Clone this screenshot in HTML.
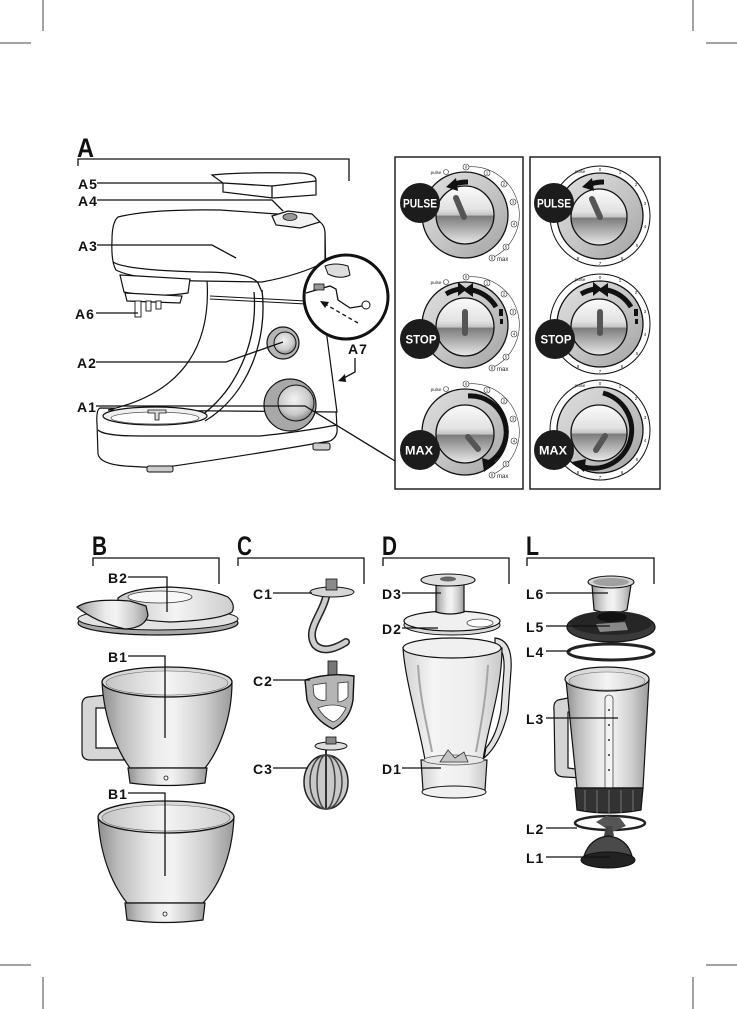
<!DOCTYPE html>
<html><head><meta charset="utf-8">
<style>
html,body{margin:0;padding:0;background:#fff;}
svg{display:block;}
.lb{font-family:"Liberation Sans Narrow","Liberation Sans",sans-serif;font-weight:bold;font-size:14px;fill:#111;letter-spacing:1px;}
.hd{font-family:"Liberation Sans Narrow","Liberation Sans",sans-serif;font-weight:bold;font-size:27px;fill:#111;}
.bt{font-family:"Liberation Sans Narrow","Liberation Sans",sans-serif;font-weight:bold;font-size:12px;fill:#fff;}
.tn{font-family:"Liberation Sans",sans-serif;font-size:4.5px;fill:#222;}
.ln{stroke:#111;stroke-width:1.3;fill:none;}
.o{stroke:#111;stroke-width:1.2;}
</style></head>
<body>
<svg width="737" height="1009" viewBox="0 0 737 1009" xmlns="http://www.w3.org/2000/svg">
<defs>
<linearGradient id="met" x1="0" y1="0" x2="1" y2="0">
<stop offset="0" stop-color="#8e8e8e"/><stop offset="0.15" stop-color="#bcbcbc"/><stop offset="0.4" stop-color="#ebebeb"/><stop offset="0.55" stop-color="#f3f3f3"/><stop offset="0.8" stop-color="#cdcdcd"/><stop offset="1" stop-color="#9a9a9a"/>
</linearGradient>
<linearGradient id="inr" x1="0" y1="0" x2="1" y2="0">
<stop offset="0" stop-color="#c4c4c4"/><stop offset="0.5" stop-color="#f4f4f4"/><stop offset="1" stop-color="#cdcdcd"/>
</linearGradient>
<linearGradient id="ring" x1="0" y1="0" x2="1" y2="1">
<stop offset="0" stop-color="#e0e0e0"/><stop offset="0.5" stop-color="#c6c6c6"/><stop offset="1" stop-color="#a2a2a2"/>
</linearGradient>
<linearGradient id="face" x1="0" y1="0" x2="0" y2="1">
<stop offset="0" stop-color="#fbfbfb"/><stop offset="0.4" stop-color="#e2e2e2"/><stop offset="0.5" stop-color="#c4c4c4"/><stop offset="0.52" stop-color="#7c7c7c"/><stop offset="0.72" stop-color="#a9a9a9"/><stop offset="1" stop-color="#e9e9e9"/>
</linearGradient>
<linearGradient id="glass" x1="0" y1="0" x2="1" y2="0">
<stop offset="0" stop-color="#d2d2d2"/><stop offset="0.3" stop-color="#f4f4f4"/><stop offset="0.7" stop-color="#eeeeee"/><stop offset="1" stop-color="#c8c8c8"/>
</linearGradient>
<radialGradient id="knob" cx="0.45" cy="0.4" r="0.6">
<stop offset="0" stop-color="#f4f4f4"/><stop offset="0.7" stop-color="#c9c9c9"/><stop offset="1" stop-color="#8d8d8d"/>
</radialGradient>
</defs>

<!-- crop marks -->
<g stroke="#444" stroke-width="1">
<line x1="43" y1="0" x2="43" y2="31"/><line x1="0" y1="43" x2="31" y2="43"/>
<line x1="693" y1="0" x2="693" y2="31"/><line x1="706" y1="43" x2="737" y2="43"/>
<line x1="43" y1="977" x2="43" y2="1009"/><line x1="0" y1="965" x2="31" y2="965"/>
<line x1="693" y1="977" x2="693" y2="1009"/><line x1="706" y1="965" x2="737" y2="965"/>
</g>

<!-- Section A header -->
<text class="hd" x="77" y="157" textLength="17" lengthAdjust="spacingAndGlyphs">A</text>
<path class="ln" d="M78,166 V159 H349 V181"/>

<!-- ===== MIXER ===== -->
<path class="o" fill="#fff" d="M100,408 Q96,410 97,424 L98,454 Q100,464 125,466 L160,468 Q250,455 330,441 Q338,437 337,428 L336,410 Z"/>
<path class="ln" d="M98,430 Q104,436 140,436 L260,436 Q300,432 337,425"/>
<rect x="147" y="466" width="26" height="6" rx="2" fill="#ccc" stroke="#111" stroke-width="1"/>
<rect x="313" y="443" width="17" height="7" rx="2" fill="#ccc" stroke="#111" stroke-width="1"/>
<path class="o" fill="#fff" d="M207,280 C211,340 188,392 108,410 L337,412 L327,337 L325,232 L262,226 Z"/>
<path class="ln" d="M262,290 C268,340 248,395 205,421"/>
<path class="ln" d="M254,292 C258,340 238,392 195,420"/>
<ellipse cx="155" cy="416" rx="52" ry="9" fill="#f0f0f0" stroke="#111" stroke-width="1.2"/>
<ellipse cx="155" cy="418" rx="44" ry="6" fill="#fff" stroke="#555" stroke-width="0.8"/>
<path d="M148,410 L166,410 L166,413 L159,413 L159,420 L155,420 L155,413 L148,413 Z" fill="#ddd" stroke="#111" stroke-width="0.8"/>
<!-- head -->
<path class="o" fill="#fff" d="M118,217 Q150,209 220,210 L277,214 L318,221 Q325,224 325,234 L325,262 Q300,275 262,282 L200,281 Q135,280 116,270 Q111,262 112,240 Q112,222 118,217 Z"/>
<path class="ln" d="M113,262 Q125,270 200,272 Q250,272 258,283 L262,292"/>
<path class="o" fill="#f2f2f2" d="M272,216 L288,211 L312,214 L320,222 L300,228 L276,225 Z"/>
<ellipse cx="290" cy="217" rx="7" ry="3.5" fill="#999" stroke="#111" stroke-width="0.8"/>
<!-- hub -->
<path class="o" fill="#fff" d="M120,275 L190,279 L188,293 Q155,298 124,292 Z"/>
<path class="o" fill="#fff" d="M125,293 L182,296 L180,303 L127,301 Z"/>
<rect x="135" y="301" width="6" height="16" fill="#fff" stroke="#111" stroke-width="0.9"/>
<rect x="146" y="301" width="5" height="10" fill="#fff" stroke="#111" stroke-width="0.9"/>
<rect x="156" y="301" width="5" height="8" fill="#fff" stroke="#111" stroke-width="0.9"/>
<path d="M210,296 L306,301 M210,299 L306,304" stroke="#111" stroke-width="1"/>
<!-- knobs -->
<circle cx="283" cy="343" r="16" fill="#b5b5b5" stroke="#111" stroke-width="1.2"/>
<circle cx="285" cy="343" r="11" fill="url(#knob)" stroke="#111" stroke-width="1"/>
<circle cx="290" cy="405" r="26" fill="#a8a8a8" stroke="#111" stroke-width="1.2"/>
<circle cx="296" cy="403" r="18" fill="url(#knob)" stroke="#111" stroke-width="1"/>
<!-- magnifier -->
<circle cx="346" cy="297" r="42" fill="#fff" stroke="#111" stroke-width="3"/>
<path d="M325,266 Q335,262 348,266 L350,275 Q340,280 328,274 Z" fill="#ddd" stroke="#111" stroke-width="1"/>
<path d="M306,293 L330,286 L336,289 L338,300 L350,308 L362,306" fill="none" stroke="#111" stroke-width="1.3"/>
<rect x="314" y="284" width="10" height="6" fill="#999" stroke="#111" stroke-width="0.8"/>
<circle cx="366" cy="305" r="4" fill="#fff" stroke="#111" stroke-width="1"/>
<path d="M358,323 L325,304" stroke="#111" stroke-width="1.3" stroke-dasharray="4,3"/>
<path d="M320,301 L329,302 L325,308 Z" fill="#111"/>

<!-- A labels -->
<text class="lb" x="78" y="189">A5</text>
<text class="lb" x="78" y="206">A4</text>
<text class="lb" x="78" y="251">A3</text>
<text class="lb" x="75" y="319">A6</text>
<text class="lb" x="77" y="368">A2</text>
<text class="lb" x="77" y="412">A1</text>
<text class="lb" x="348" y="354">A7</text>
<path class="ln" d="M97,183 H223"/>
<path class="ln" d="M97,200 H272 L283,211"/>
<path class="ln" d="M97,245 H212 L236,258"/>
<path class="ln" d="M96,313 H138"/>
<path class="ln" d="M96,362 H226 L283,342"/>
<path class="ln" d="M96,406 H305 L395,461"/>
<path class="ln" d="M355,358 V372 L342,379"/>
<path d="M338,381 L345,374 L346,382 Z" fill="#111"/>

<!-- A5 plate -->
<path class="o" fill="#fff" d="M212,175 Q240,172 300,173 Q316,174 316,180 L316,195 L273,198 L223,192 L223,183 Z"/>
<path class="ln" d="M223,183 L272,186 L316,181 M272,186 V198"/>

<!-- ===== Dial panels ===== -->
<rect x="395" y="157" width="128" height="332" fill="none" stroke="#222" stroke-width="1.5"/>
<rect x="530" y="157" width="130" height="332" fill="none" stroke="#222" stroke-width="1.5"/>

<g>
<circle cx="465" cy="215" r="43" fill="url(#ring)" stroke="#111" stroke-width="1.3"/>
<circle cx="465" cy="215" r="29" fill="url(#face)" stroke="#111" stroke-width="1.3"/>
<circle cx="465" cy="325" r="43" fill="url(#ring)" stroke="#111" stroke-width="1.3"/>
<circle cx="465" cy="327" r="29" fill="url(#face)" stroke="#111" stroke-width="1.3"/>
<circle cx="465" cy="432" r="43" fill="url(#ring)" stroke="#111" stroke-width="1.3"/>
<circle cx="465" cy="434" r="29" fill="url(#face)" stroke="#111" stroke-width="1.3"/>
</g>
<g fill="none" stroke="#333" stroke-width="0.6">
<path d="M466,167 A48,48 0 0 1 492,258"/>
<path d="M466,277 A48,48 0 0 1 492,368"/>
<path d="M466,384 A48,48 0 0 1 492,475"/>
</g>
<g fill="#fff" stroke="#333" stroke-width="0.6">
<circle cx="466" cy="167" r="3"/><circle cx="487" cy="173" r="3"/><circle cx="504" cy="184" r="3"/><circle cx="513" cy="202" r="3"/><circle cx="514" cy="224" r="3"/><circle cx="506" cy="247" r="3"/><circle cx="492" cy="258" r="3"/><circle cx="446" cy="172" r="2.5"/>
<circle cx="466" cy="277" r="3"/><circle cx="487" cy="283" r="3"/><circle cx="504" cy="294" r="3"/><circle cx="513" cy="312" r="3"/><circle cx="514" cy="334" r="3"/><circle cx="506" cy="357" r="3"/><circle cx="492" cy="368" r="3"/><circle cx="446" cy="282" r="2.5"/>
<circle cx="466" cy="384" r="3"/><circle cx="487" cy="390" r="3"/><circle cx="504" cy="401" r="3"/><circle cx="513" cy="419" r="3"/><circle cx="514" cy="441" r="3"/><circle cx="506" cy="464" r="3"/><circle cx="492" cy="475" r="3"/><circle cx="446" cy="389" r="2.5"/>
</g>
<g class="tn" text-anchor="middle">
<text x="466" y="168.5">0</text><text x="487" y="174.5">1</text><text x="504" y="185.5">2</text><text x="513" y="203.5">3</text><text x="514" y="225.5">4</text><text x="506" y="248.5">5</text><text x="492" y="259.5">6</text>
<text x="466" y="278.5">0</text><text x="487" y="284.5">1</text><text x="504" y="295.5">2</text><text x="513" y="313.5">3</text><text x="514" y="335.5">4</text><text x="506" y="358.5">5</text><text x="492" y="369.5">6</text>
<text x="466" y="385.5">0</text><text x="487" y="391.5">1</text><text x="504" y="402.5">2</text><text x="513" y="420.5">3</text><text x="514" y="442.5">4</text><text x="506" y="465.5">5</text><text x="492" y="476.5">6</text>
<text x="436" y="174">pulse</text><text x="436" y="284">pulse</text><text x="436" y="391">pulse</text>
</g>
<g class="tn" style="font-size:6px">
<text x="497" y="261">max</text><text x="497" y="371">max</text><text x="497" y="478">max</text>
</g>

<g>
<circle cx="600" cy="216" r="50" fill="#fff" stroke="#111" stroke-width="1"/>
<circle cx="600" cy="216" r="43" fill="url(#ring)" stroke="#111" stroke-width="1.3"/>
<circle cx="599" cy="217" r="28" fill="url(#face)" stroke="#111" stroke-width="1.3"/>
<circle cx="600" cy="324" r="50" fill="#fff" stroke="#111" stroke-width="1"/>
<circle cx="600" cy="324" r="43" fill="url(#ring)" stroke="#111" stroke-width="1.3"/>
<circle cx="599" cy="327" r="28" fill="url(#face)" stroke="#111" stroke-width="1.3"/>
<circle cx="600" cy="430" r="50" fill="#fff" stroke="#111" stroke-width="1"/>
<circle cx="600" cy="430" r="43" fill="url(#ring)" stroke="#111" stroke-width="1.3"/>
<circle cx="599" cy="433" r="28" fill="url(#face)" stroke="#111" stroke-width="1.3"/>
</g>
<g class="tn" text-anchor="middle">
<text x="600" y="171">0</text><text x="620" y="174">1</text><text x="636" y="186">2</text><text x="645" y="205">3</text><text x="645" y="228">4</text><text x="637" y="247">5</text><text x="622" y="260">6</text><text x="600" y="265">7</text><text x="578" y="260">8</text>
<text x="600" y="279">0</text><text x="620" y="282">1</text><text x="636" y="294">2</text><text x="645" y="313">3</text><text x="645" y="336">4</text><text x="637" y="355">5</text><text x="622" y="368">6</text><text x="600" y="373">7</text><text x="578" y="368">8</text>
<text x="600" y="385">0</text><text x="620" y="388">1</text><text x="636" y="400">2</text><text x="645" y="419">3</text><text x="645" y="442">4</text><text x="637" y="461">5</text><text x="622" y="474">6</text><text x="600" y="479">7</text><text x="578" y="474">8</text>
<text x="580" y="173">pulse</text><text x="580" y="281">pulse</text><text x="580" y="387">pulse</text>
</g>

<g stroke="#555" stroke-width="6" stroke-linecap="round">
<line x1="456" y1="198" x2="464" y2="217"/>
<line x1="465" y1="312" x2="465" y2="333"/>
<line x1="468" y1="437" x2="478" y2="449"/>
<line x1="592" y1="199" x2="600" y2="217"/>
<line x1="600" y1="312" x2="600" y2="333"/>
<line x1="605" y1="436" x2="596" y2="450"/>
</g>

<g fill="none" stroke="#111" stroke-width="5">
<path d="M468,182 Q460,182 455,184"/>
<path d="M446,294 Q453,290 460,289"/>
<path d="M496,307 A36,36 0 0 0 472,290"/>
<path d="M468,396 A36,36 0 0 1 490,462"/>
<path d="M604,182 Q596,182 591,184"/>
<path d="M581,294 Q588,290 595,289"/>
<path d="M631,307 A36,36 0 0 0 607,290"/>
<path d="M603,393 A38,38 0 0 1 584,467"/>
</g>
<g fill="#111">
<polygon points="446,187 456,178 458,191"/>
<polygon points="467,289 458,282 458,296"/>
<polygon points="463,290 473,283 473,297"/>
<polygon points="484,472 482,458 496,462"/>
<rect x="499" y="309" width="4" height="7"/><rect x="500" y="319" width="3" height="5"/>
<polygon points="582,187 592,178 594,191"/>
<polygon points="602,289 593,282 593,296"/>
<polygon points="598,290 608,283 608,297"/>
<rect x="634" y="309" width="4" height="7"/><rect x="635" y="319" width="3" height="5"/>
<polygon points="572,462 586,459 584,472"/>
</g>

<g fill="#1c1c1c">
<circle cx="420" cy="203" r="20"/><circle cx="420" cy="339" r="20"/><circle cx="420" cy="450" r="20"/>
<circle cx="554" cy="203" r="20"/><circle cx="555" cy="339" r="20"/><circle cx="554" cy="450" r="20"/>
</g>
<g class="bt" text-anchor="middle">
<text x="420" y="207.5" textLength="34" lengthAdjust="spacingAndGlyphs">PULSE</text>
<text x="421" y="343.5" textLength="31" lengthAdjust="spacingAndGlyphs">STOP</text>
<text x="419" y="454.5" textLength="28" lengthAdjust="spacingAndGlyphs">MAX</text>
<text x="554" y="207.5" textLength="34" lengthAdjust="spacingAndGlyphs">PULSE</text>
<text x="556" y="343.5" textLength="31" lengthAdjust="spacingAndGlyphs">STOP</text>
<text x="553" y="454.5" textLength="28" lengthAdjust="spacingAndGlyphs">MAX</text>
</g>

<!-- ===== Bottom headers ===== -->
<text class="hd" x="92" y="555" textLength="15" lengthAdjust="spacingAndGlyphs">B</text>
<text class="hd" x="237" y="555" textLength="15" lengthAdjust="spacingAndGlyphs">C</text>
<text class="hd" x="382" y="555" textLength="15" lengthAdjust="spacingAndGlyphs">D</text>
<text class="hd" x="526" y="555" textLength="13" lengthAdjust="spacingAndGlyphs">L</text>
<path class="ln" d="M93,566 V558 H219 V584"/>
<path class="ln" d="M238,566 V558 H364 V584"/>
<path class="ln" d="M383,566 V558 H509 V584"/>
<path class="ln" d="M527,566 V558 H654 V584"/>

<!-- B2 lid -->
<ellipse cx="158" cy="623" rx="80" ry="12" fill="#a8a8a8" stroke="#111" stroke-width="1.2"/>
<ellipse cx="158" cy="619" rx="80" ry="11" fill="#e2e2e2" stroke="#111" stroke-width="1"/>
<path class="o" fill="url(#inr)" d="M118,598 Q130,588 170,587 Q210,589 228,597 Q236,605 232,612 Q220,620 170,622 Q130,620 118,612 Z"/>
<ellipse cx="160" cy="597" rx="32" ry="6" fill="#f7f7f7" stroke="#333" stroke-width="0.8"/>
<path class="o" fill="url(#met)" d="M77,607 Q90,598 130,601 L146,606 L148,615 Q145,628 125,629 Q95,622 77,607 Z"/>

<!-- B1 bowl with handle -->
<path class="o" fill="#d6d6d6" d="M106,695 L88,697 Q82,698 82,705 L82,752 Q82,760 90,760 L124,760 L122,748 L96,748 L96,708 L106,708 Z"/>
<path class="o" fill="url(#met)" d="M102,682 C104,720 118,752 130,768 L205,768 C218,752 232,720 232,682 Z"/>
<path class="o" fill="url(#met)" d="M128,768 L207,768 L205,783 Q167,788 130,783 Z"/>
<circle cx="166" cy="778" r="2" fill="#fff" stroke="#111" stroke-width="0.8"/>
<ellipse cx="167" cy="682" rx="65" ry="15" fill="#d8d8d8" stroke="#111" stroke-width="1.3"/>
<ellipse cx="167" cy="683" rx="61" ry="12" fill="url(#inr)" stroke="#666" stroke-width="0.6"/>

<!-- B1 bowl 2 -->
<path class="o" fill="url(#met)" d="M98,817 C100,860 115,888 127,903 L203,903 C217,888 232,860 234,817 Z"/>
<path class="o" fill="url(#met)" d="M125,903 L205,903 L203,920 Q165,925 127,920 Z"/>
<circle cx="165" cy="914" r="2" fill="#fff" stroke="#111" stroke-width="0.8"/>
<ellipse cx="166" cy="817" rx="68" ry="16" fill="#d8d8d8" stroke="#111" stroke-width="1.3"/>
<ellipse cx="166" cy="818" rx="64" ry="13" fill="url(#inr)" stroke="#666" stroke-width="0.6"/>

<text class="lb" x="108" y="583">B2</text>
<text class="lb" x="108" y="662">B1</text>
<text class="lb" x="108" y="799">B1</text>
<path class="ln" d="M128,577 H167 V612"/>
<path class="ln" d="M128,656 H165 V738"/>
<path class="ln" d="M128,793 H165 V876"/>

<!-- C1 hook -->
<path d="M326,597 C322,615 305,630 315,645 Q325,655 346,642" fill="none" stroke="#222" stroke-width="8" stroke-linecap="round"/>
<path d="M326,597 C322,615 305,630 315,645 Q325,655 346,642" fill="none" stroke="#cdcdcd" stroke-width="5" stroke-linecap="round"/>
<ellipse cx="332" cy="592" rx="22" ry="5" fill="#d6d6d6" stroke="#111" stroke-width="1"/>
<rect x="326" y="579" width="11" height="11" fill="#8a8a8a" stroke="#111" stroke-width="0.8"/>
<!-- C2 beater -->
<rect x="328" y="661" width="9" height="16" fill="#777" stroke="#111" stroke-width="0.8"/>
<path d="M305,680 Q330,672 354,676 L353,700 Q350,720 333,729 Q314,720 307,700 Z" fill="#b5b5b5" stroke="#111" stroke-width="1.4"/>
<path d="M313,685 L326,683 L326,700 Q318,702 314,695 Z M338,683 L348,682 L348,697 Q343,702 338,702 Z M318,708 Q333,702 346,708 Q340,720 333,722 Q324,718 318,708 Z" fill="#fff" stroke="#333" stroke-width="0.8"/>
<!-- C3 whisk -->
<ellipse cx="326" cy="782" rx="22" ry="27" fill="#c8c8c8" stroke="#222" stroke-width="1.5"/>
<ellipse cx="326" cy="782" rx="16" ry="27" fill="none" stroke="#444" stroke-width="1.5"/>
<ellipse cx="326" cy="782" rx="9" ry="27" fill="none" stroke="#444" stroke-width="1.5"/>
<line x1="326" y1="748" x2="326" y2="808" stroke="#333" stroke-width="2"/>
<ellipse cx="331" cy="746" rx="16" ry="4" fill="#ddd" stroke="#111" stroke-width="1"/>
<rect x="326" y="737" width="10" height="7" fill="#888" stroke="#111" stroke-width="0.8"/>
<text class="lb" x="253" y="599">C1</text>
<text class="lb" x="253" y="686">C2</text>
<text class="lb" x="253" y="774">C3</text>
<path class="ln" d="M273,593 H312"/>
<path class="ln" d="M273,680 H310"/>
<path class="ln" d="M273,768 H308"/>

<!-- D jug -->
<path class="o" fill="#e2e2e2" d="M495,638 Q513,640 511,670 L508,712 Q500,745 484,758 L486,748 Q497,735 501,710 L504,670 Q505,648 495,645 Z"/>
<path class="o" fill="url(#glass)" d="M403,648 C405,680 420,730 425,760 L483,760 C487,730 502,690 502,648 Z"/>
<path d="M418,665 C420,700 428,730 432,752 M488,665 C486,700 480,730 476,752" fill="none" stroke="#a5a5a5" stroke-width="2"/>
<path class="o" fill="url(#glass)" d="M421,760 L487,760 L485,790 Q454,800 423,790 Z"/>
<ellipse cx="454" cy="792" rx="32" ry="6" fill="#f0f0f0" stroke="#111" stroke-width="1"/>
<ellipse cx="454" cy="760" rx="30" ry="5" fill="#e8e8e8" stroke="#555" stroke-width="0.8"/>
<path d="M440,762 L448,750 L455,758 L464,752 L468,762 Z" fill="#c4c4c4" stroke="#333" stroke-width="0.8"/>
<ellipse cx="452" cy="648" rx="49" ry="10" fill="#f0f0f0" stroke="#111" stroke-width="1.2"/>
<ellipse cx="452" cy="625" rx="48" ry="10" fill="#dadada" stroke="#111" stroke-width="1"/>
<ellipse cx="452" cy="621" rx="48" ry="10" fill="#f0f0f0" stroke="#111" stroke-width="1.2"/>
<ellipse cx="480" cy="623" rx="13" ry="4" fill="#fff" stroke="#444" stroke-width="0.8"/>
<path class="o" fill="url(#met)" d="M436,584 L436,612 Q450,616 464,612 L464,584 Z"/>
<ellipse cx="448" cy="580" rx="27" ry="6" fill="#dedede" stroke="#111" stroke-width="1.1"/>
<ellipse cx="448" cy="579" rx="8" ry="2.5" fill="#666"/>
<text class="lb" x="382" y="599">D3</text>
<text class="lb" x="382" y="634">D2</text>
<text class="lb" x="382" y="774">D1</text>
<path class="ln" d="M402,593 H441"/>
<path class="ln" d="M402,628 H438"/>
<path class="ln" d="M402,768 H441"/>

<!-- L blender -->
<path class="o" fill="url(#met)" d="M592,585 L594,610 Q611,616 627,610 L631,585 Z"/>
<ellipse cx="611" cy="582" rx="23" ry="6" fill="#d4d4d4" stroke="#111" stroke-width="1.1"/>
<ellipse cx="611" cy="582" rx="18" ry="4" fill="#a0a0a0"/>
<ellipse cx="611" cy="627" rx="44" ry="15" fill="#3a3a3a" stroke="#111" stroke-width="1.2"/>
<ellipse cx="611" cy="623" rx="41" ry="12" fill="#262626"/>
<ellipse cx="612" cy="617" rx="15" ry="5" fill="#111"/>
<path d="M596,624 L625,622 L628,630 L600,632 Z" fill="#888"/>
<ellipse cx="611" cy="652" rx="43" ry="8" fill="none" stroke="#222" stroke-width="3"/>
<path class="o" fill="#d4d4d4" d="M578,696 L558,700 Q553,702 554,710 L555,770 Q556,777 565,777 L582,778 L582,770 L568,768 L568,712 L580,708 Z"/>
<path class="o" fill="url(#met)" d="M566,680 L577,788 L643,788 L649,680 Z"/>
<ellipse cx="607" cy="679" rx="42" ry="12" fill="#dcdcdc" stroke="#111" stroke-width="1.2"/>
<ellipse cx="607" cy="681" rx="38" ry="9" fill="url(#inr)" stroke="#666" stroke-width="0.6"/>
<rect x="605" y="695" width="8" height="95" rx="4" fill="#f4f4f4" stroke="#444" stroke-width="0.8"/>
<g fill="#333"><circle cx="609" cy="710" r="1"/><circle cx="609" cy="725" r="1"/><circle cx="609" cy="740" r="1"/><circle cx="609" cy="755" r="1"/><circle cx="609" cy="770" r="1"/></g>
<path class="o" fill="#333" d="M575,788 L643,788 L641,810 Q608,816 577,810 Z"/>
<g stroke="#777" stroke-width="1"><line x1="585" y1="790" x2="585" y2="811"/><line x1="597" y1="790" x2="597" y2="813"/><line x1="609" y1="790" x2="609" y2="814"/><line x1="621" y1="790" x2="621" y2="813"/><line x1="633" y1="790" x2="633" y2="811"/></g>
<ellipse cx="610" cy="823" rx="35" ry="7" fill="none" stroke="#222" stroke-width="2.5"/>
<path d="M596,822 L606,816 L620,818 L626,826 L612,832 Z" fill="#555"/>
<path d="M604,836 L606,826 L612,826 L614,836 Z" fill="#444"/>
<path class="o" fill="#4a4a4a" d="M584,856 Q590,838 608,836 Q627,838 632,856 Z"/>
<ellipse cx="608" cy="860" rx="27" ry="8" fill="#222" stroke="#111" stroke-width="1"/>
<text class="lb" x="526" y="599">L6</text>
<text class="lb" x="526" y="632">L5</text>
<text class="lb" x="526" y="657">L4</text>
<text class="lb" x="526" y="724">L3</text>
<text class="lb" x="526" y="834">L2</text>
<text class="lb" x="526" y="863">L1</text>
<path class="ln" d="M546,593 H608"/>
<path class="ln" d="M546,626 H610" stroke="#999"/>
<path class="ln" d="M546,651 H571"/>
<path class="ln" d="M546,718 H618"/>
<path class="ln" d="M546,828 H577"/>
<path class="ln" d="M546,857 H610" stroke="#aaa"/>
</svg>
</body></html>
